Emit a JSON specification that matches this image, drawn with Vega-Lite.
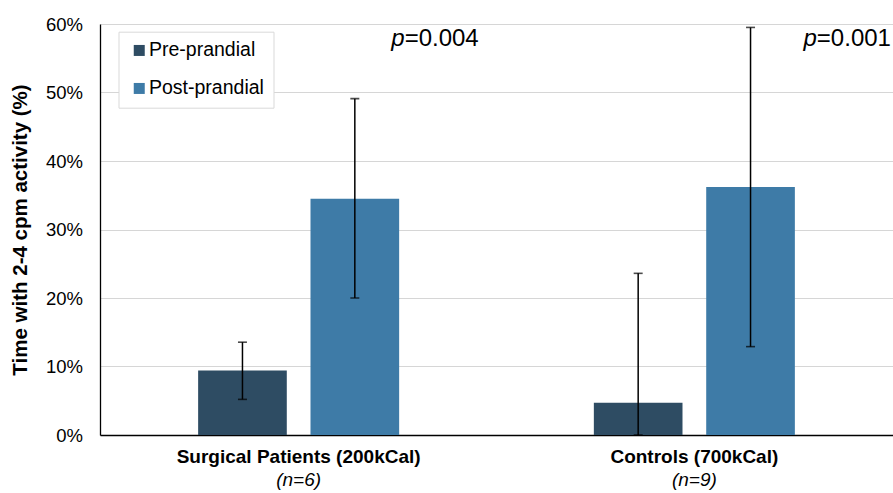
{
  "$schema": "https://vega.github.io/schema/vega-lite/v6.json",
  "width": 793,
  "height": 411,
  "autosize": {"type": "none"},
  "padding": {"left": 100, "top": 24, "right": 0, "bottom": 58},
  "background": "white",
  "config": {
    "view": {"stroke": null},
    "font": "Liberation Sans"
  },
  "datasets": {
    "bars": [
      {"group": "Surgical Patients (200kCal)", "series": "Pre-prandial", "value": 0.094, "low": 0.052, "high": 0.1355},
      {"group": "Surgical Patients (200kCal)", "series": "Post-prandial", "value": 0.345, "low": 0.200, "high": 0.491},
      {"group": "Controls (700kCal)", "series": "Pre-prandial", "value": 0.047, "low": 0.0, "high": 0.236},
      {"group": "Controls (700kCal)", "series": "Post-prandial", "value": 0.362, "low": 0.129, "high": 0.595}
    ],
    "groups": [
      {"group": "Surgical Patients (200kCal)", "n": "(n=6)"},
      {"group": "Controls (700kCal)", "n": "(n=9)"}
    ],
    "psurg": [{"group": "Surgical Patients (200kCal)", "p": "p", "val": "=0.004"}],
    "pctrl": [{"group": "Controls (700kCal)", "p": "p", "val": "=0.001"}]
  },
  "layer": [
    {
      "data": {"name": "bars"},
      "mark": {"type": "bar"},
      "encoding": {
        "x": {
          "field": "group", "type": "nominal", "sort": null,
          "scale": {"paddingInner": 0.492, "paddingOuter": 0.248},
          "axis": {
            "title": null, "labelAngle": 0, "ticks": false, "tickSize": 0,
            "labelPadding": 12, "labelFontSize": 19, "labelFontWeight": "bold",
            "labelColor": "#000000", "labelLimit": 400,
            "domainColor": "#000000", "domainWidth": 1.3, "grid": false
          }
        },
        "xOffset": {
          "field": "series", "type": "nominal",
          "sort": ["Pre-prandial", "Post-prandial"],
          "scale": {"paddingInner": 0.211, "paddingOuter": 0}
        },
        "y": {
          "field": "value", "type": "quantitative",
          "scale": {"domain": [0, 0.6], "nice": false},
          "axis": {
            "title": "Time with 2-4 cpm activity (%)",
            "titleFontSize": 20.5, "titleFontWeight": "bold", "titleColor": "#000000",
            "titlePadding": 15,
            "values": [0, 0.1, 0.2, 0.3, 0.4, 0.5, 0.6],
            "format": ".0%",
            "ticks": false, "tickSize": 0, "labelPadding": 17.5,
            "labelFontSize": 18.5, "labelColor": "#000000",
            "domainColor": "#000000", "domainWidth": 1.3,
            "grid": true, "gridColor": "#d6d6d6", "gridWidth": 1.2
          }
        },
        "color": {
          "field": "series", "type": "nominal",
          "scale": {"domain": ["Pre-prandial", "Post-prandial"], "range": ["#2E4C63", "#3E7BA7"]},
          "legend": {
            "title": null, "orient": "none", "legendX": 18.5, "legendY": 7.7,
            "direction": "vertical",
            "symbolType": "square", "symbolSize": 121, "symbolStrokeWidth": 0,
            "symbolOffset": 2,
            "labelFontSize": 19.5, "labelColor": "#000000", "labelOffset": 0,
            "rowPadding": 17, "padding": 9,
            "strokeColor": "#d9d9d9", "fillColor": "#ffffff"
          }
        }
      }
    },
    {
      "data": {"name": "bars"},
      "mark": {"type": "rule", "color": "#000000", "strokeWidth": 1.5},
      "encoding": {
        "x": {"field": "group", "type": "nominal", "sort": null},
        "xOffset": {"field": "series", "type": "nominal", "sort": ["Pre-prandial", "Post-prandial"]},
        "y": {"field": "low", "type": "quantitative"},
        "y2": {"field": "high"}
      }
    },
    {
      "data": {"name": "bars"},
      "mark": {"type": "tick", "color": "#000000", "thickness": 1.6, "size": 9},
      "encoding": {
        "x": {"field": "group", "type": "nominal", "sort": null},
        "xOffset": {"field": "series", "type": "nominal", "sort": ["Pre-prandial", "Post-prandial"]},
        "y": {"field": "high", "type": "quantitative"}
      }
    },
    {
      "data": {"name": "bars"},
      "mark": {"type": "tick", "color": "#000000", "thickness": 1.6, "size": 9},
      "encoding": {
        "x": {"field": "group", "type": "nominal", "sort": null},
        "xOffset": {"field": "series", "type": "nominal", "sort": ["Pre-prandial", "Post-prandial"]},
        "y": {"field": "low", "type": "quantitative"}
      }
    },
    {
      "data": {"name": "groups"},
      "mark": {"type": "text", "fontSize": 19, "fontStyle": "italic", "color": "#000000", "baseline": "alphabetic", "align": "center", "dy": 51},
      "encoding": {
        "x": {"field": "group", "type": "nominal", "sort": null},
        "y": {"datum": 0},
        "text": {"field": "n"}
      }
    },
    {
      "data": {"name": "psurg"},
      "mark": {"type": "text", "fontSize": 24, "fontStyle": "italic", "color": "#000000", "baseline": "alphabetic", "align": "right", "dx": 106, "dy": 22},
      "encoding": {
        "x": {"field": "group", "type": "nominal", "sort": null},
        "y": {"datum": 0.6},
        "text": {"field": "p"}
      }
    },
    {
      "data": {"name": "psurg"},
      "mark": {"type": "text", "fontSize": 24, "color": "#000000", "baseline": "alphabetic", "align": "left", "dx": 106, "dy": 22},
      "encoding": {
        "x": {"field": "group", "type": "nominal", "sort": null},
        "y": {"datum": 0.6},
        "text": {"field": "val"}
      }
    },
    {
      "data": {"name": "pctrl"},
      "mark": {"type": "text", "fontSize": 24, "fontStyle": "italic", "color": "#000000", "baseline": "alphabetic", "align": "right", "dx": 122.5, "dy": 22},
      "encoding": {
        "x": {"field": "group", "type": "nominal", "sort": null},
        "y": {"datum": 0.6},
        "text": {"field": "p"}
      }
    },
    {
      "data": {"name": "pctrl"},
      "mark": {"type": "text", "fontSize": 24, "color": "#000000", "baseline": "alphabetic", "align": "left", "dx": 122.5, "dy": 22},
      "encoding": {
        "x": {"field": "group", "type": "nominal", "sort": null},
        "y": {"datum": 0.6},
        "text": {"field": "val"}
      }
    }
  ]
}
